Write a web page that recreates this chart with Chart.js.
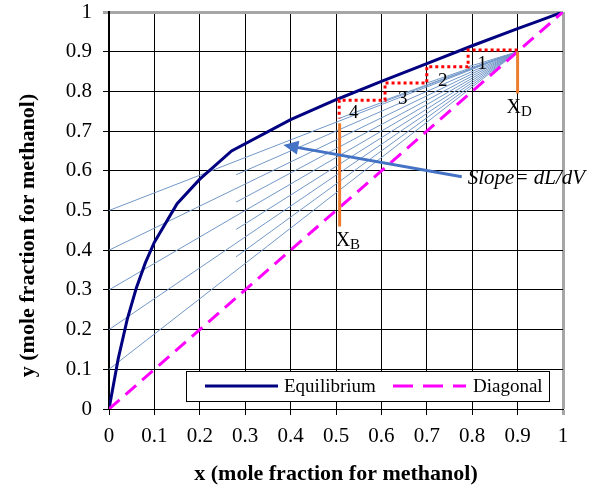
<!DOCTYPE html>
<html>
<head>
<meta charset="utf-8">
<script src="https://cdn.jsdelivr.net/npm/chart.js@4.4.0/dist/chart.umd.min.js"></script>
<style>
  body { margin: 0; background: #fff; }
</style>
</head>
<body>
<canvas id="myChart" width="616" height="489"></canvas>
<script>
var serif = '"Liberation Serif", "Times New Roman", serif';

// methanol-water equilibrium curve
var eqX = [0, 0.02, 0.04, 0.06, 0.08, 0.1, 0.15, 0.2, 0.27, 0.4, 0.5, 0.6, 0.7, 0.8, 0.9, 0.95, 1];
var eqY = [0, 0.125, 0.225, 0.304, 0.368, 0.42, 0.517, 0.579, 0.65, 0.729, 0.779, 0.825, 0.87, 0.915, 0.958, 0.979, 1];

// diagonal y = x
var diagX = [0, 1];
var diagY = [0, 1];

// distillate / bottoms compositions
var xD = 0.9;
var xB = 0.508;
var xDLine = [0.9, 0.795];
var xBLine = [0.72, 0.46];

// operating lines from (xD, xD) to the y axis
var opIntercepts = [0.5, 0.4, 0.3, 0.2, 0.1];
// shorter operating lines, stopping part way
var midIntercepts = [0.45, 0.35, 0.25, 0.15];
var midEndX = 0.28;

// stepping (dotted staircase)
var stepX = [0.9, 0.791, 0.791, 0.70, 0.70, 0.608, 0.608, 0.507, 0.507];
var stepY = [0.904, 0.904, 0.862, 0.862, 0.821, 0.821, 0.778, 0.778, 0.732];
var stepLabels = ["1", "2", "3", "4"];
var stepLabelX = [0.822, 0.735, 0.647, 0.539];
var stepLabelY = [0.868, 0.826, 0.782, 0.746];

// arrow pointing at the operating lines
var arrowFrom = [0.777, 0.585];
var arrowTo = [0.384, 0.665];

function pts(xs, ys) {
    return xs.map(function (v, i) { return { x: v, y: ys[i] }; });
}

var fanColor = '#7398c8';
var datasets = [];

opIntercepts.forEach(function (b) {
    datasets.push({
        data: [{ x: xD, y: xD }, { x: 0, y: b }],
        borderColor: fanColor, borderWidth: 1, order: 5
    });
});
midIntercepts.forEach(function (b) {
    datasets.push({
        data: [{ x: xD, y: xD }, { x: midEndX, y: b + (xD - b) / xD * midEndX }],
        borderColor: fanColor, borderWidth: 1, order: 5
    });
});
// short lines from xD to each step corner
for (var i = 2; i < stepX.length; i += 2) {
    datasets.push({
        data: [{ x: xD, y: xD }, { x: stepX[i], y: stepY[i] }],
        borderColor: fanColor, borderWidth: 1, order: 5
    });
}

datasets.push({
    label: 'Equilibrium',
    data: pts(eqX, eqY),
    borderColor: '#000080', borderWidth: 3, order: 3
});
datasets.push({
    label: 'Diagonal',
    data: pts(diagX, diagY),
    borderColor: '#ff00ff', borderWidth: 3, borderDash: [14, 8], order: 2
});
datasets.push({
    data: [{ x: xD, y: xDLine[0] }, { x: xD, y: xDLine[1] }],
    borderColor: '#ed7d31', borderWidth: 3, order: 1
});
datasets.push({
    data: [{ x: xB, y: xBLine[0] }, { x: xB, y: xBLine[1] }],
    borderColor: '#ed7d31', borderWidth: 3, order: 1
});
datasets.push({
    data: pts(stepX, stepY),
    borderColor: '#ff0000', borderWidth: 3, borderDash: [3, 3], order: 0
});

var extras = {
    id: 'extras',
    afterDatasetsDraw(chart) {
        var ctx = chart.ctx, x = chart.scales.x, y = chart.scales.y, area = chart.chartArea;
        ctx.save();

        // arrow
        var x1 = x.getPixelForValue(arrowFrom[0]), y1 = y.getPixelForValue(arrowFrom[1]);
        var x2 = x.getPixelForValue(arrowTo[0]), y2 = y.getPixelForValue(arrowTo[1]);
        var ang = Math.atan2(y2 - y1, x2 - x1);
        var hl = 15, hw = 7;
        var bx = x2 - hl * Math.cos(ang), by = y2 - hl * Math.sin(ang);
        ctx.strokeStyle = '#4472c4';
        ctx.fillStyle = '#4472c4';
        ctx.lineWidth = 3;
        ctx.beginPath();
        ctx.moveTo(x1, y1);
        ctx.lineTo(bx, by);
        ctx.stroke();
        ctx.beginPath();
        ctx.moveTo(x2, y2);
        ctx.lineTo(bx + hw * Math.sin(ang), by - hw * Math.cos(ang));
        ctx.lineTo(bx - hw * Math.sin(ang), by + hw * Math.cos(ang));
        ctx.closePath();
        ctx.fill();

        // slope text
        ctx.fillStyle = '#000';
        ctx.font = 'italic 21px ' + serif;
        ctx.textAlign = 'left';
        ctx.textBaseline = 'middle';
        ctx.fillText('Slope= dL/dV', x1 + 6, y1 + 2);

        // step numbers
        ctx.font = '19px ' + serif;
        ctx.textAlign = 'center';
        stepLabels.forEach(function (t, i) {
            ctx.fillText(t, x.getPixelForValue(stepLabelX[i]), y.getPixelForValue(stepLabelY[i]));
        });

        // xD and xB labels
        function sub(main, s, px, py) {
            ctx.font = '20px ' + serif;
            ctx.textAlign = 'left';
            var w = ctx.measureText(main).width;
            ctx.fillText(main, px, py);
            ctx.font = '15px ' + serif;
            ctx.fillText(s, px + w, py + 5);
        }
        sub('X', 'D', x.getPixelForValue(xD) - 11, y.getPixelForValue(xDLine[1]) + 14);
        sub('X', 'B', x.getPixelForValue(xB) - 4, y.getPixelForValue(xBLine[1]) + 14);

        // y axis title (sits a little below the plot centre, as in the original)
        ctx.save();
        ctx.translate(28, (area.top + area.bottom) / 2 + 25);
        ctx.rotate(-Math.PI / 2);
        ctx.font = 'bold 22px ' + serif;
        ctx.textAlign = 'center';
        ctx.fillText('y (mole fraction for methanol)', 0, 0);
        ctx.restore();

        // legend box
        var lx = area.left + 77, ly = area.bottom - 38, lw = area.width - 91, lh = 30;
        ctx.fillStyle = '#fff';
        ctx.fillRect(lx, ly, lw, lh);
        ctx.strokeStyle = '#000';
        ctx.lineWidth = 1;
        ctx.strokeRect(lx + 0.5, ly + 0.5, lw, lh);
        var cy = ly + lh / 2;
        ctx.lineWidth = 3;
        ctx.strokeStyle = '#000080';
        ctx.beginPath();
        ctx.moveTo(lx + 19, cy);
        ctx.lineTo(lx + 92, cy);
        ctx.stroke();
        ctx.strokeStyle = '#ff00ff';
        ctx.setLineDash([20, 10]);
        ctx.beginPath();
        ctx.moveTo(lx + 207, cy);
        ctx.lineTo(lx + 280, cy);
        ctx.stroke();
        ctx.setLineDash([]);
        ctx.fillStyle = '#000';
        ctx.font = '19px ' + serif;
        ctx.textAlign = 'left';
        ctx.fillText('Equilibrium', lx + 98, cy + 1);
        ctx.fillText('Diagonal', lx + 287, cy + 1);

        ctx.restore();
    }
};

function tickText(v) {
    return String(Number(v.toFixed(1)));
}
function gridColor(c) {
    return c.tick && c.tick.value === 1 ? '#a6a6a6' : '#000';
}
function gridWidth(c) {
    return c.tick && c.tick.value === 1 ? 3 : 1;
}

new Chart(document.getElementById('myChart').getContext('2d'), {
    type: 'scatter',
    data: { datasets: datasets },
    options: {
        responsive: false,
        animation: false,
        devicePixelRatio: 1,
        layout: { padding: { left: 0, right: 53, top: 12, bottom: 0 } },
        elements: {
            point: { radius: 0, hoverRadius: 0 },
            line: { tension: 0, fill: false }
        },
        datasets: { scatter: { showLine: true } },
        plugins: {
            legend: { display: false },
            tooltip: { enabled: false }
        },
        scales: {
            x: {
                type: 'linear', min: 0, max: 1,
                afterFit: function (s) { s.height = 80; s.paddingLeft = 0; s.paddingRight = 0; },
                ticks: { stepSize: 0.1, color: '#000', font: { family: serif, size: 21 }, padding: 9, maxRotation: 0, callback: tickText },
                grid: { color: gridColor, lineWidth: gridWidth, tickLength: 6 },
                border: { color: '#000', width: 1 },
                title: { display: true, text: 'x (mole fraction for methanol)', color: '#000', font: { family: serif, size: 22, weight: 'bold' }, padding: { top: 0, bottom: 1 } }
            },
            y: {
                type: 'linear', min: 0, max: 1,
                afterFit: function (s) { s.width = 109; s.paddingTop = 0; s.paddingBottom = 0; },
                ticks: { stepSize: 0.1, color: '#000', font: { family: serif, size: 21 }, padding: 11, callback: tickText },
                grid: { color: gridColor, lineWidth: gridWidth, tickLength: 6 },
                border: { color: '#000', width: 2 }
            }
        }
    },
    plugins: [extras]
});
</script>
</body>
</html>
